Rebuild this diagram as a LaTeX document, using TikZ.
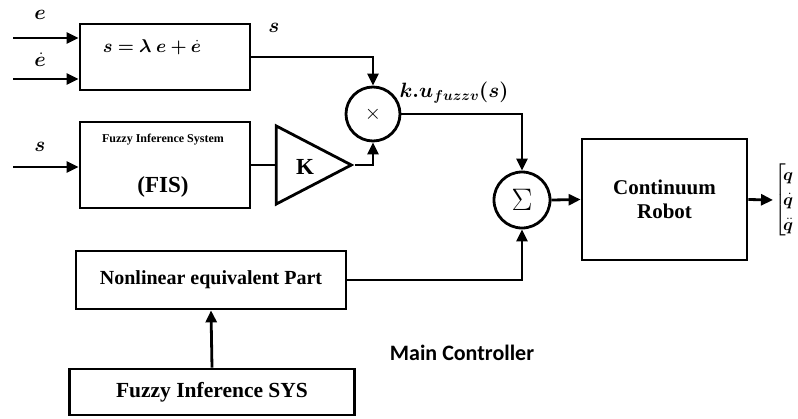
\documentclass[tikz,border=0pt]{standalone}
\usepackage{amsmath,bm}
\usepackage{graphicx}
\usepackage{fontspec}
\setmainfont{Liberation Serif}
\newfontfamily\calib{Carlito}
\usetikzlibrary{arrows.meta,shapes.geometric}
\begin{document}
\begin{tikzpicture}[x=1pt,y=-1pt, line width=2.8pt,
  blk/.style={draw, rectangle, inner sep=0pt},
  opcirc/.style={draw, circle, inner sep=0pt},
  arr/.style={-{Triangle[length=12pt,width=11pt]}},
  lbl/.style={inner sep=0pt, font=\fontsize{20.74}{24}\selectfont},
  btxt/.style={inner sep=0pt, font=\fontsize{20}{24}\selectfont\bfseries},
]
\useasboundingbox (0,0) rectangle (798,418);
% blocks
\node[blk, minimum width=170pt, minimum height=66pt] (box1) at (165,57) {};
\node[blk, minimum width=170pt, minimum height=86pt] (fis) at (165,165) {};
\node[draw, isosceles triangle, isosceles triangle stretches, inner sep=0pt,
      minimum width=78pt, minimum height=75pt, anchor=apex] (tri) at (355,165) {};
\node[opcirc, minimum size=54pt] (xc) at (373,114) {};
\node[opcirc, minimum size=56pt] (sig) at (522,200) {};
\node[blk, minimum width=165pt, minimum height=121pt, align=center,
      font=\fontsize{21}{24}\selectfont\bfseries] (robot) at (664.5,199.5) {Continuum\\Robot};
\node[blk, minimum width=270pt, minimum height=58pt,
      font=\fontsize{20}{24}\selectfont\bfseries] (nl) at (211,280) {Nonlinear equivalent Part};
\node[blk, minimum width=285pt, minimum height=46pt,
      font=\fontsize{21.5}{24}\selectfont\bfseries] (fsys) at (212,392) {Fuzzy Inference SYS};
% texts inside blocks
\node[inner sep=0pt, font=\fontsize{17.28}{22}\selectfont] (eq) at (152,47) {\scalebox{1.07}{$\bm{s=\lambda\ e+\dot{e}}$}};
\node[inner sep=0pt, font=\fontsize{12}{14}\selectfont\bfseries] (fist) at (163,140) {Fuzzy Inference System};
\node[btxt, font=\fontsize{23}{26}\selectfont\bfseries] (fisa) at (163,187) {(FIS)};
\node[btxt, font=\fontsize{23}{26}\selectfont\bfseries] (kk) at (305,167) {K};
\node[inner sep=0pt, font=\fontsize{20.74}{26}\selectfont] (times) at (xc) {$\times$};
\node[inner sep=0pt, font=\fontsize{24.88}{30}\selectfont] (sigma) at (sig) {\scalebox{1.25}{$\Sigma$}};
% signal labels
\node[lbl] (le) at (40,15) {$\bm{e}$};
\node[lbl] (led) at (40,60) {$\bm{\dot{e}}$};
\node[lbl] (ls) at (40,147) {$\bm{s}$};
\node[lbl] (lso) at (274,28) {$\bm{s}$};
\node[lbl] (lku) at (454,93) {$\bm{k.u_{fuzzv}(s)}$};
\node[inner sep=0pt, font=\fontsize{22}{26}\selectfont\calib\bfseries] (mc) at (462,353) {Main Controller};
\node[inner sep=0pt, anchor=west, font=\fontsize{17.28}{25}\selectfont] (vec) at (773,200)
  {$\left[\!\begin{matrix}\bm{q}\\ \bm{\dot{q}}\\ \bm{\ddot{q}}\end{matrix}\right.$};
% free ends
\coordinate (ein) at (13,38);
\coordinate (edin) at (13,79);
\coordinate (sin) at (13,167);
% connectors
\draw[arr] (ein) -- (ein -| box1.west);
\draw[arr] (edin) -- (edin -| box1.west);
\draw[arr] (sin) -- (sin -| fis.west);
\draw[arr] (box1.east) -| (xc.north);
\draw (fis.east) -- (tri.west);
\draw[arr] (tri.apex) -| (xc.south);
\draw[arr] (xc.east) -| (sig.north);
\draw[arr] (sig.east) -- (robot.west);
\draw[arr] (robot.east) -- (vec.west);
\draw[arr] (nl.east) -| (sig.south);
\draw[arr] (fsys.north) -- (nl.south);
\end{tikzpicture}
\end{document}
